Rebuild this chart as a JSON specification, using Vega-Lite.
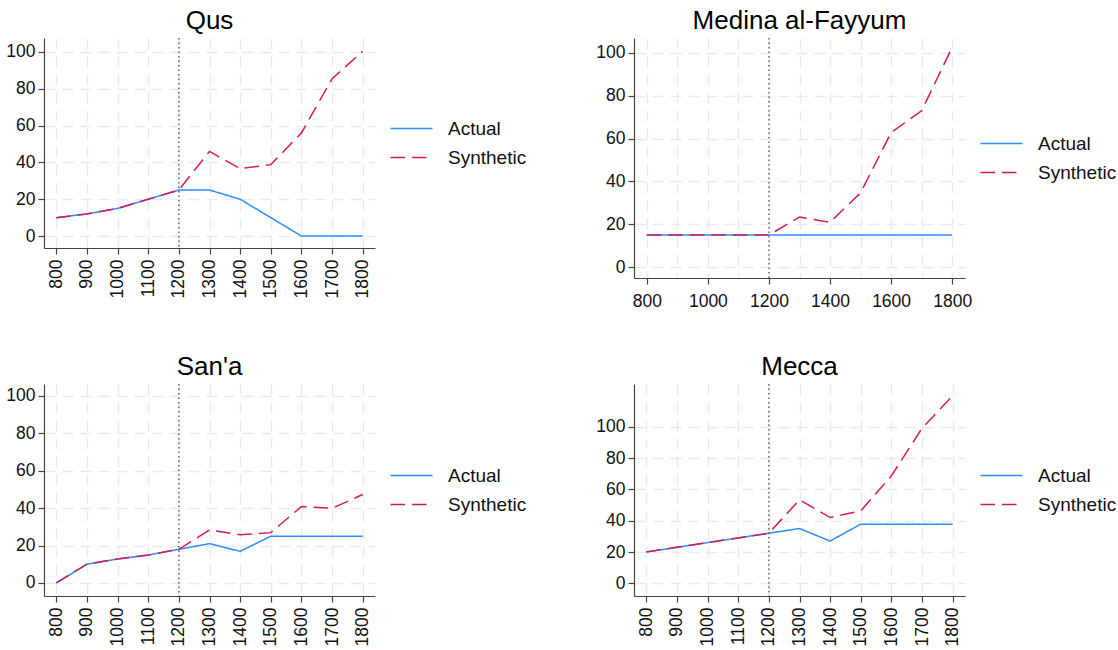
{
  "$schema": "https://vega.github.io/schema/vega-lite/v6.json",
  "background": "white",
  "padding": {"left": 5, "top": 8, "right": 5, "bottom": 5},
  "config": {
    "font": "Liberation Sans",
    "view": {"stroke": null},
    "axis": {
      "title": null,
      "labelFont": "Liberation Sans",
      "labelFontSize": 17.5,
      "labelColor": "#111111",
      "domainColor": "#444444",
      "domainWidth": 1.2,
      "tickColor": "#444444",
      "tickWidth": 1.2,
      "tickSize": 6,
      "labelPadding": 3,
      "gridColor": "#eaeaea",
      "gridWidth": 1.5,
      "gridDash": [11, 7],
      "labelOverlap": false,
      "labelFlush": false,
      "format": "d"
    },
    "title": {"font": "Liberation Sans", "fontSize": 26, "fontWeight": "normal", "color": "#000000", "offset": 3},
    "legend": {
      "labelFont": "Liberation Sans",
      "labelFontSize": 19,
      "labelColor": "#111111",
      "symbolType": "M-2,0H2",
      "symbolSize": 441,
      "symbolStrokeWidth": 1.5,
      "labelOffset": 25,
      "padding": 0,
      "rowPadding": 7
    },
    "line": {"strokeWidth": 1.5}
  },
  "datasets": {
    "pop": [
      {"city": "Qus", "series": "Actual", "year": 800, "value": 10},
      {"city": "Qus", "series": "Actual", "year": 900, "value": 12},
      {"city": "Qus", "series": "Actual", "year": 1000, "value": 15},
      {"city": "Qus", "series": "Actual", "year": 1100, "value": 20},
      {"city": "Qus", "series": "Actual", "year": 1200, "value": 25},
      {"city": "Qus", "series": "Actual", "year": 1300, "value": 25},
      {"city": "Qus", "series": "Actual", "year": 1400, "value": 20},
      {"city": "Qus", "series": "Actual", "year": 1500, "value": 10},
      {"city": "Qus", "series": "Actual", "year": 1600, "value": 0},
      {"city": "Qus", "series": "Actual", "year": 1700, "value": 0},
      {"city": "Qus", "series": "Actual", "year": 1800, "value": 0},
      {"city": "Qus", "series": "Synthetic", "year": 800, "value": 10},
      {"city": "Qus", "series": "Synthetic", "year": 900, "value": 12},
      {"city": "Qus", "series": "Synthetic", "year": 1000, "value": 15},
      {"city": "Qus", "series": "Synthetic", "year": 1100, "value": 20},
      {"city": "Qus", "series": "Synthetic", "year": 1200, "value": 25},
      {"city": "Qus", "series": "Synthetic", "year": 1300, "value": 46},
      {"city": "Qus", "series": "Synthetic", "year": 1400, "value": 36.6},
      {"city": "Qus", "series": "Synthetic", "year": 1500, "value": 38.8},
      {"city": "Qus", "series": "Synthetic", "year": 1600, "value": 56},
      {"city": "Qus", "series": "Synthetic", "year": 1700, "value": 85.5},
      {"city": "Qus", "series": "Synthetic", "year": 1800, "value": 100.4},
      {"city": "Medina al-Fayyum", "series": "Actual", "year": 800, "value": 15},
      {"city": "Medina al-Fayyum", "series": "Actual", "year": 900, "value": 15},
      {"city": "Medina al-Fayyum", "series": "Actual", "year": 1000, "value": 15},
      {"city": "Medina al-Fayyum", "series": "Actual", "year": 1100, "value": 15},
      {"city": "Medina al-Fayyum", "series": "Actual", "year": 1200, "value": 15},
      {"city": "Medina al-Fayyum", "series": "Actual", "year": 1300, "value": 15},
      {"city": "Medina al-Fayyum", "series": "Actual", "year": 1400, "value": 15},
      {"city": "Medina al-Fayyum", "series": "Actual", "year": 1500, "value": 15},
      {"city": "Medina al-Fayyum", "series": "Actual", "year": 1600, "value": 15},
      {"city": "Medina al-Fayyum", "series": "Actual", "year": 1700, "value": 15},
      {"city": "Medina al-Fayyum", "series": "Actual", "year": 1800, "value": 15},
      {"city": "Medina al-Fayyum", "series": "Synthetic", "year": 800, "value": 15},
      {"city": "Medina al-Fayyum", "series": "Synthetic", "year": 900, "value": 15},
      {"city": "Medina al-Fayyum", "series": "Synthetic", "year": 1000, "value": 15},
      {"city": "Medina al-Fayyum", "series": "Synthetic", "year": 1100, "value": 15},
      {"city": "Medina al-Fayyum", "series": "Synthetic", "year": 1200, "value": 15},
      {"city": "Medina al-Fayyum", "series": "Synthetic", "year": 1300, "value": 23.4},
      {"city": "Medina al-Fayyum", "series": "Synthetic", "year": 1400, "value": 20.9},
      {"city": "Medina al-Fayyum", "series": "Synthetic", "year": 1500, "value": 34.7},
      {"city": "Medina al-Fayyum", "series": "Synthetic", "year": 1600, "value": 62.8},
      {"city": "Medina al-Fayyum", "series": "Synthetic", "year": 1700, "value": 73},
      {"city": "Medina al-Fayyum", "series": "Synthetic", "year": 1800, "value": 102.7},
      {"city": "San'a", "series": "Actual", "year": 800, "value": 0},
      {"city": "San'a", "series": "Actual", "year": 900, "value": 10},
      {"city": "San'a", "series": "Actual", "year": 1000, "value": 12.8},
      {"city": "San'a", "series": "Actual", "year": 1100, "value": 14.9},
      {"city": "San'a", "series": "Actual", "year": 1200, "value": 18},
      {"city": "San'a", "series": "Actual", "year": 1300, "value": 21},
      {"city": "San'a", "series": "Actual", "year": 1400, "value": 16.9},
      {"city": "San'a", "series": "Actual", "year": 1500, "value": 25},
      {"city": "San'a", "series": "Actual", "year": 1600, "value": 25},
      {"city": "San'a", "series": "Actual", "year": 1700, "value": 25},
      {"city": "San'a", "series": "Actual", "year": 1800, "value": 25},
      {"city": "San'a", "series": "Synthetic", "year": 800, "value": 0},
      {"city": "San'a", "series": "Synthetic", "year": 900, "value": 10},
      {"city": "San'a", "series": "Synthetic", "year": 1000, "value": 12.8},
      {"city": "San'a", "series": "Synthetic", "year": 1100, "value": 14.9},
      {"city": "San'a", "series": "Synthetic", "year": 1200, "value": 18},
      {"city": "San'a", "series": "Synthetic", "year": 1300, "value": 28.3},
      {"city": "San'a", "series": "Synthetic", "year": 1400, "value": 25.8},
      {"city": "San'a", "series": "Synthetic", "year": 1500, "value": 26.9},
      {"city": "San'a", "series": "Synthetic", "year": 1600, "value": 40.9},
      {"city": "San'a", "series": "Synthetic", "year": 1700, "value": 39.9},
      {"city": "San'a", "series": "Synthetic", "year": 1800, "value": 47.3},
      {"city": "Mecca", "series": "Actual", "year": 800, "value": 20},
      {"city": "Mecca", "series": "Actual", "year": 900, "value": 23},
      {"city": "Mecca", "series": "Actual", "year": 1000, "value": 26},
      {"city": "Mecca", "series": "Actual", "year": 1100, "value": 29},
      {"city": "Mecca", "series": "Actual", "year": 1200, "value": 32},
      {"city": "Mecca", "series": "Actual", "year": 1300, "value": 35},
      {"city": "Mecca", "series": "Actual", "year": 1400, "value": 27},
      {"city": "Mecca", "series": "Actual", "year": 1500, "value": 37.8},
      {"city": "Mecca", "series": "Actual", "year": 1600, "value": 37.8},
      {"city": "Mecca", "series": "Actual", "year": 1700, "value": 37.8},
      {"city": "Mecca", "series": "Actual", "year": 1800, "value": 37.8},
      {"city": "Mecca", "series": "Synthetic", "year": 800, "value": 20},
      {"city": "Mecca", "series": "Synthetic", "year": 900, "value": 23},
      {"city": "Mecca", "series": "Synthetic", "year": 1000, "value": 26},
      {"city": "Mecca", "series": "Synthetic", "year": 1100, "value": 29},
      {"city": "Mecca", "series": "Synthetic", "year": 1200, "value": 32},
      {"city": "Mecca", "series": "Synthetic", "year": 1300, "value": 53.3},
      {"city": "Mecca", "series": "Synthetic", "year": 1400, "value": 42},
      {"city": "Mecca", "series": "Synthetic", "year": 1500, "value": 46.3},
      {"city": "Mecca", "series": "Synthetic", "year": 1600, "value": 68.7},
      {"city": "Mecca", "series": "Synthetic", "year": 1700, "value": 99.1},
      {"city": "Mecca", "series": "Synthetic", "year": 1800, "value": 119.8}
    ],
    "treat": [{"year": 1200}]
  },
  "columns": 2,
  "bounds": "flush",
  "spacing": {"row": 106, "column": 259},
  "resolve": {
    "scale": {"x": "independent", "y": "independent", "color": "independent", "strokeDash": "independent"},
    "legend": {"color": "independent", "strokeDash": "independent"}
  },
  "concat": [
    {
      "title": "Qus",
      "width": 331,
      "height": 210,
      "layer": [
        {
          "data": {"name": "pop"},
          "transform": [{"filter": "datum.city === 'Qus'"}],
          "mark": {"type": "line", "strokeWidth": 1.5},
          "encoding": {
            "x": {"field": "year", "type": "quantitative", "scale": {"domain": [760, 1840], "nice": false, "zero": false},
                  "axis": {"values": [800, 900, 1000, 1100, 1200, 1300, 1400, 1500, 1600, 1700, 1800], "labelAngle": 270, "labelPadding": 5, "labelOverlap": false, "labelSeparation": 0, "format": "d"}},
            "y": {"field": "value", "type": "quantitative", "scale": {"domain": [-6.5, 107.6], "nice": false, "zero": false},
                  "axis": {"values": [0, 20, 40, 60, 80, 100], "labelOverlap": false}},
            "color": {"field": "series", "type": "nominal", "scale": {"domain": ["Actual", "Synthetic"], "range": ["#2a8cff", "#d6185c"]},
                      "legend": {"orient": "none", "legendX": 356, "legendY": 79, "title": null}},
            "strokeDash": {"field": "series", "type": "nominal", "scale": {"domain": ["Actual", "Synthetic"], "range": [[1, 0], [14.5, 7]]},
                      "legend": {"orient": "none", "legendX": 356, "legendY": 79, "title": null}}
          }
        },
        {
          "data": {"name": "treat"},
          "mark": {"type": "rule", "color": "#444444", "strokeWidth": 1.2, "strokeDash": [1.5, 3]},
          "encoding": {"x": {"field": "year", "type": "quantitative",
                  "axis": {"values": [800, 900, 1000, 1100, 1200, 1300, 1400, 1500, 1600, 1700, 1800], "labelAngle": 270, "labelPadding": 5, "labelOverlap": false, "labelSeparation": 0, "format": "d"}}}
        }
      ]
    },
    {
      "title": "Medina al-Fayyum",
      "width": 331,
      "height": 240,
      "layer": [
        {
          "data": {"name": "pop"},
          "transform": [{"filter": "datum.city === 'Medina al-Fayyum'"}],
          "mark": {"type": "line", "strokeWidth": 1.5},
          "encoding": {
            "x": {"field": "year", "type": "quantitative", "scale": {"domain": [758, 1842], "nice": false, "zero": false},
                  "axis": {"values": [800, 900, 1000, 1100, 1200, 1300, 1400, 1500, 1600, 1700, 1800], "labelAngle": 0, "labelPadding": 8, "labelOverlap": false, "format": "d",
                           "labelExpr": "datum.value % 200 === 0 ? datum.label : ''",
                           "tickOpacity": {"condition": {"test": "datum.value % 200 !== 0", "value": 0}, "value": 1}}},
            "y": {"field": "value", "type": "quantitative", "scale": {"domain": [-5.1, 107], "nice": false, "zero": false},
                  "axis": {"values": [0, 20, 40, 60, 80, 100], "labelOverlap": false}},
            "color": {"field": "series", "type": "nominal", "scale": {"domain": ["Actual", "Synthetic"], "range": ["#2a8cff", "#d6185c"]},
                      "legend": {"orient": "none", "legendX": 356, "legendY": 94, "title": null}},
            "strokeDash": {"field": "series", "type": "nominal", "scale": {"domain": ["Actual", "Synthetic"], "range": [[1, 0], [14.5, 7]]},
                      "legend": {"orient": "none", "legendX": 356, "legendY": 94, "title": null}}
          }
        },
        {
          "data": {"name": "treat"},
          "mark": {"type": "rule", "color": "#444444", "strokeWidth": 1.2, "strokeDash": [1.5, 3]},
          "encoding": {"x": {"field": "year", "type": "quantitative",
                  "axis": {"values": [800, 900, 1000, 1100, 1200, 1300, 1400, 1500, 1600, 1700, 1800], "labelAngle": 0, "labelPadding": 8, "labelOverlap": false, "format": "d",
                           "labelExpr": "datum.value % 200 === 0 ? datum.label : ''",
                           "tickOpacity": {"condition": {"test": "datum.value % 200 !== 0", "value": 0}, "value": 1}}}}
        }
      ]
    },
    {
      "title": "San'a",
      "width": 331,
      "height": 212,
      "layer": [
        {
          "data": {"name": "pop"},
          "transform": [{"filter": "datum.city === \"San'a\""}],
          "mark": {"type": "line", "strokeWidth": 1.5},
          "encoding": {
            "x": {"field": "year", "type": "quantitative", "scale": {"domain": [760, 1840], "nice": false, "zero": false},
                  "axis": {"values": [800, 900, 1000, 1100, 1200, 1300, 1400, 1500, 1600, 1700, 1800], "labelAngle": 270, "labelPadding": 5, "labelOverlap": false, "labelSeparation": 0, "format": "d"}},
            "y": {"field": "value", "type": "quantitative", "scale": {"domain": [-7, 106.4], "nice": false, "zero": false},
                  "axis": {"values": [0, 20, 40, 60, 80, 100], "labelOverlap": false}},
            "color": {"field": "series", "type": "nominal", "scale": {"domain": ["Actual", "Synthetic"], "range": ["#2a8cff", "#d6185c"]},
                      "legend": {"orient": "none", "legendX": 356, "legendY": 80, "title": null}},
            "strokeDash": {"field": "series", "type": "nominal", "scale": {"domain": ["Actual", "Synthetic"], "range": [[1, 0], [14.5, 7]]},
                      "legend": {"orient": "none", "legendX": 356, "legendY": 80, "title": null}}
          }
        },
        {
          "data": {"name": "treat"},
          "mark": {"type": "rule", "color": "#444444", "strokeWidth": 1.2, "strokeDash": [1.5, 3]},
          "encoding": {"x": {"field": "year", "type": "quantitative",
                  "axis": {"values": [800, 900, 1000, 1100, 1200, 1300, 1400, 1500, 1600, 1700, 1800], "labelAngle": 270, "labelPadding": 5, "labelOverlap": false, "labelSeparation": 0, "format": "d"}}}
        }
      ]
    },
    {
      "title": "Mecca",
      "width": 331,
      "height": 212,
      "layer": [
        {
          "data": {"name": "pop"},
          "transform": [{"filter": "datum.city === 'Mecca'"}],
          "mark": {"type": "line", "strokeWidth": 1.5},
          "encoding": {
            "x": {"field": "year", "type": "quantitative", "scale": {"domain": [760, 1840], "nice": false, "zero": false},
                  "axis": {"values": [800, 900, 1000, 1100, 1200, 1300, 1400, 1500, 1600, 1700, 1800], "labelAngle": 270, "labelPadding": 5, "labelOverlap": false, "labelSeparation": 0, "format": "d"}},
            "y": {"field": "value", "type": "quantitative", "scale": {"domain": [-8.1, 127.3], "nice": false, "zero": false},
                  "axis": {"values": [0, 20, 40, 60, 80, 100], "labelOverlap": false}},
            "color": {"field": "series", "type": "nominal", "scale": {"domain": ["Actual", "Synthetic"], "range": ["#2a8cff", "#d6185c"]},
                      "legend": {"orient": "none", "legendX": 356, "legendY": 80, "title": null}},
            "strokeDash": {"field": "series", "type": "nominal", "scale": {"domain": ["Actual", "Synthetic"], "range": [[1, 0], [14.5, 7]]},
                      "legend": {"orient": "none", "legendX": 356, "legendY": 80, "title": null}}
          }
        },
        {
          "data": {"name": "treat"},
          "mark": {"type": "rule", "color": "#444444", "strokeWidth": 1.2, "strokeDash": [1.5, 3]},
          "encoding": {"x": {"field": "year", "type": "quantitative",
                  "axis": {"values": [800, 900, 1000, 1100, 1200, 1300, 1400, 1500, 1600, 1700, 1800], "labelAngle": 270, "labelPadding": 5, "labelOverlap": false, "labelSeparation": 0, "format": "d"}}}
        }
      ]
    }
  ]
}
